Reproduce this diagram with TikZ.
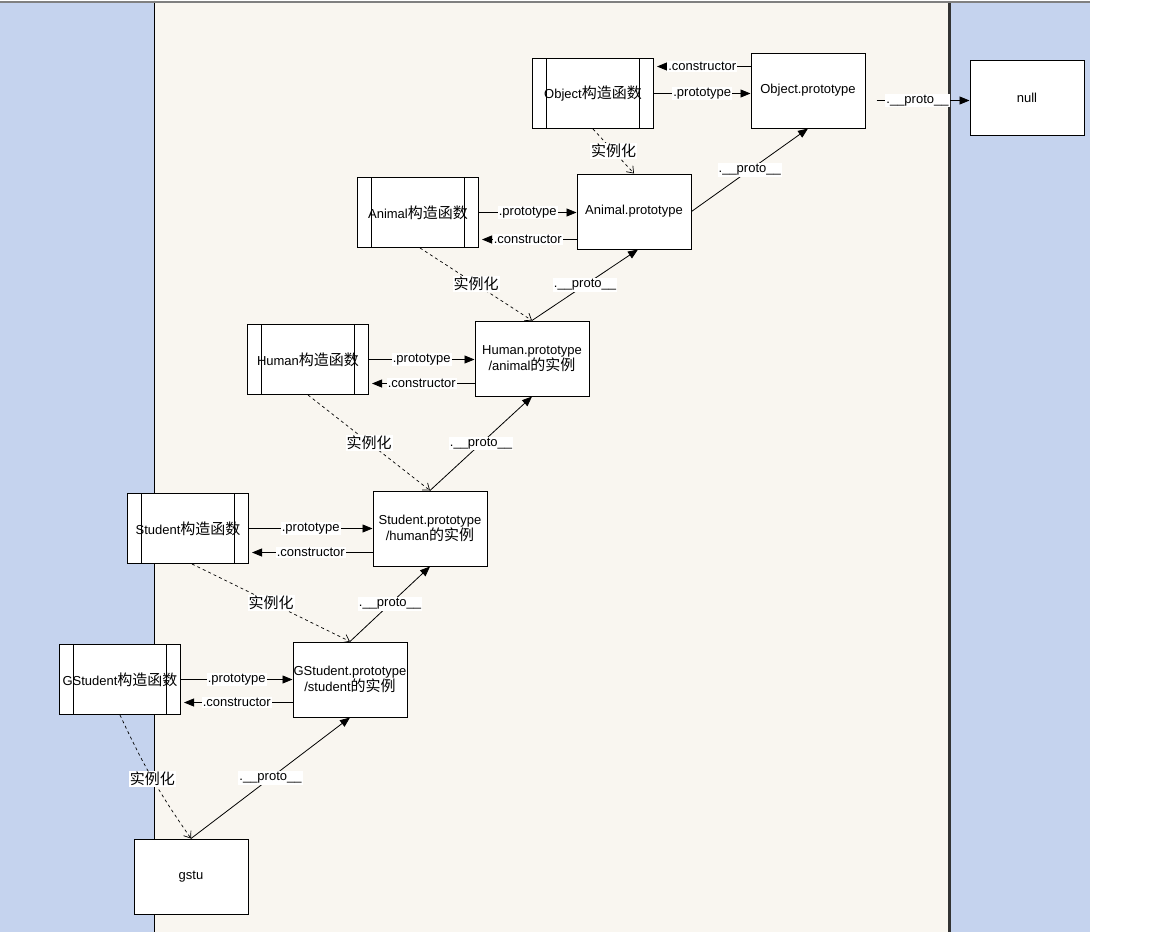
\documentclass[tikz,border=0pt]{standalone}
\usepackage{fontspec}
\setmainfont{Liberation Sans}
\newfontfamily\zhfont{Noto Sans CJK SC}
\newcommand{\zh}[1]{{\zhfont\fontsize{15}{16}\selectfont #1}}
\usetikzlibrary{arrows.meta}
\definecolor{paneblue}{HTML}{C5D3EE}
\definecolor{panebeige}{HTML}{F9F6F0}

\begin{document}
\begin{tikzpicture}[x=1pt,y=-1pt,
	every node/.style={font=\fontsize{13}{16}\selectfont},
	ctorbox/.style={draw,fill=white,line width=1pt,minimum width=121pt,minimum height=70pt,inner sep=0pt,
		path picture={\draw[line width=1pt]
			([xshift=14pt]path picture bounding box.north west) -- ([xshift=14pt]path picture bounding box.south west)
			([xshift=-14pt]path picture bounding box.north east) -- ([xshift=-14pt]path picture bounding box.south east);}},
	protobox/.style={draw,fill=white,line width=1pt,minimum width=114pt,minimum height=75pt,inner sep=0pt,align=center},
	link/.style={line width=0.8pt,-{Triangle[length=10pt,width=8pt]}},
	inst/.style={line width=0.7pt,dash pattern=on 3pt off 3pt,-{Straight Barb[length=6pt,width=9pt]}},
	lbl/.style={fill=white,inner sep=1pt}]

	    \fill[white] (0,0) rectangle (1152,931);
	    \fill[paneblue] (0,0) rectangle (154,931);
	    \fill[panebeige] (154,0) rectangle (948,931);
	    \fill[paneblue] (951,0) rectangle (1090,931);
	    \fill[black!80] (948,0) rectangle (951,931);
	    \draw[line width=1pt] (154.5,0) -- (154.5,931);
	    \fill[gray] (0,0) rectangle (1090,2.5);

	    \node[ctorbox] (objctor) at (593,93) {Object\zh{构造函数}};
	    \node[protobox] (objproto) at (808,90) {Object.prototype};
	    \node[protobox] (null) at (1027,97) {null};

	    \node[ctorbox] (anictor) at (418,212) {Animal\zh{构造函数}};
	    \node[protobox] (aniproto) at (634,211) {Animal.prototype};

	    \node[ctorbox] (humctor) at (308,359) {Human\zh{构造函数}};
	    \node[protobox] (humproto) at (532,358) {Human.prototype\\/animal\zh{的实例}};

	    \node[ctorbox] (stuctor) at (188,528) {Student\zh{构造函数}};
	    \node[protobox] (stuproto) at (430,528) {Student.prototype\\/human\zh{的实例}};

	    \node[ctorbox] (gstuctor) at (120,679) {GStudent\zh{构造函数}};
	    \node[protobox] (gstuproto) at (350,679) {GStudent.prototype\\/student\zh{的实例}};

	    \node[protobox] (gstu) at (191,876) {gstu};


	    \draw[link] (objctor.east) -- (objctor.east -| objproto.west) node[midway,lbl] {.prototype};
	    \draw[link,shorten >=3pt] ([yshift=27pt]objctor.east -| objproto.west) -- ([yshift=27pt]objctor.east) node[midway,lbl] {.constructor};
	    \draw[link,shorten <=11pt] ([yshift=-10pt]objproto.east) -- ([yshift=-10pt]objproto.east -| null.west) node[midway,lbl] {.\_\_proto\_\_};

	    \draw[link] (anictor.east) -- (anictor.east -| aniproto.west) node[midway,lbl] {.prototype};
	    \draw[link,shorten >=3pt] ([yshift=-27pt]anictor.east -| aniproto.west) -- ([yshift=-27pt]anictor.east) node[midway,lbl] {.constructor};

	    \draw[link] (humctor.east) -- (humctor.east -| humproto.west) node[midway,lbl] {.prototype};
	    \draw[link,shorten >=3pt] ([yshift=-24pt]humctor.east -| humproto.west) -- ([yshift=-24pt]humctor.east) node[midway,lbl] {.constructor};

	    \draw[link] (stuctor.east) -- (stuctor.east -| stuproto.west) node[midway,lbl] {.prototype};
	    \draw[link,shorten >=3pt] ([yshift=-24pt]stuctor.east -| stuproto.west) -- ([yshift=-24pt]stuctor.east) node[midway,lbl] {.constructor};

	    \draw[link] (gstuctor.east) -- (gstuctor.east -| gstuproto.west) node[midway,lbl] {.prototype};
	    \draw[link,shorten >=3pt] ([yshift=-23pt]gstuctor.east -| gstuproto.west) -- ([yshift=-23pt]gstuctor.east) node[midway,lbl] {.constructor};


	    \draw[link] (aniproto.east) -- (objproto.south) node[midway,lbl] {.\_\_proto\_\_};
	    \draw[link] (humproto.north) -- ([xshift=4pt]aniproto.south) node[midway,lbl] {.\_\_proto\_\_};
	    \draw[link] (stuproto.north) -- (humproto.south) node[midway,lbl] {.\_\_proto\_\_};
	    \draw[link] (gstuproto.north) -- (stuproto.south) node[midway,lbl] {.\_\_proto\_\_};
	    \draw[link] (gstu.north) -- (gstuproto.south) node[midway,lbl] {.\_\_proto\_\_};


	    \draw[inst] (objctor.south) -- (aniproto.north) node[midway,lbl] {\zh{实例化}};
	    \draw[inst] ([xshift=2pt]anictor.south) -- (humproto.north) node[midway,lbl] {\zh{实例化}};
	    \draw[inst] (humctor.south) -- (stuproto.north) node[midway,lbl] {\zh{实例化}};
	    \draw[inst] ([xshift=4pt]stuctor.south) -- (gstuproto.north) node[midway,lbl] {\zh{实例化}};
	    \draw[inst] (gstuctor.south) to[bend right=5] node[lbl] {\zh{实例化}} (gstu.north);

	\end{tikzpicture}
\end{document}
